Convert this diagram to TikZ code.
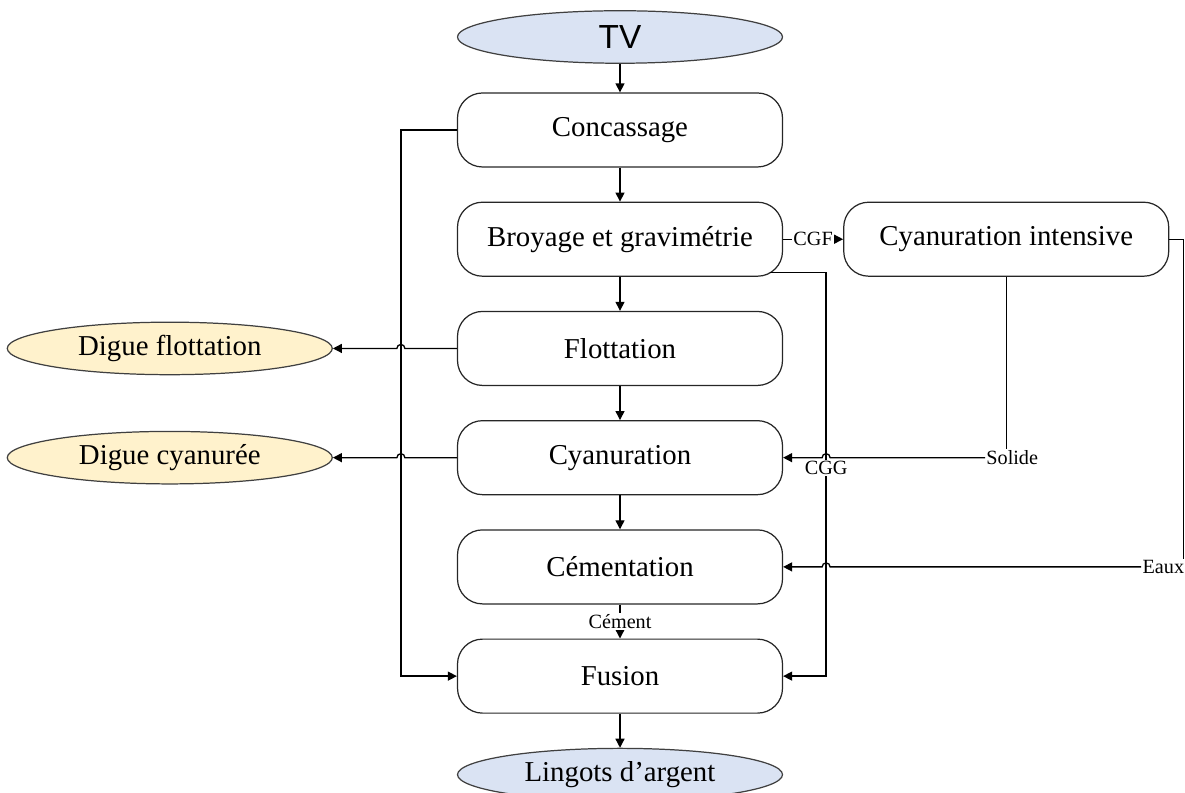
\documentclass[tikz,border=0pt]{standalone}
\usepackage{fontspec}
\setmainfont{Liberation Serif}
\newfontfamily\tvfont{Liberation Sans}
\usetikzlibrary{arrows.meta,positioning,calc,shapes.geometric}
\definecolor{blobblue}{HTML}{DAE3F3}
\definecolor{blobyellow}{HTML}{FFF2CC}
\tikzset{
  box/.style={draw=black!85, rounded corners=0.5cm, minimum width=6.5cm, minimum height=1.48cm, line width=0.7pt, font=\fontsize{16.4}{19}\selectfont},
  blob/.style={ellipse, draw=black!75, fill=blobblue, minimum width=6.5cm, minimum height=1.05cm, inner sep=0pt, line width=0.7pt, font=\fontsize{16.4}{19}\selectfont},
  dig/.style={blob, fill=blobyellow},
  lbl/.style={font=\fontsize{11.5}{13}\selectfont, inner sep=0.6pt, fill=white},
  arrow/.style={-{Triangle[length=1.8mm,width=1.8mm]}, line width=0.75pt},
  wire/.style={line width=0.75pt},
}

\begin{document}
\begin{tikzpicture}[node distance=0.68cm]
      \useasboundingbox (0,0) rectangle (23.7,-15.86);
      \node[blob, font=\tvfont\fontsize{19}{22}\selectfont] (tv) at (12.4,-0.74) {TV};
      \node[box, below=0.57cm of tv] (conc) {Concassage};
      \node[box, below=of conc] (broy) {Broyage et gravimétrie};
      \node[box, below=of broy] (flot) {Flottation};
      \node[box, below=of flot] (cyan) {Cyanuration};
      \node[box, below=of cyan] (cem) {Cémentation};
      \node[box, below=of cem] (fus) {Fusion};
      \node[blob, below=of fus] (ling) {Lingots d’argent};
      \node[box, right=1.2cm of broy] (ci) {Cyanuration intensive};
      \node[dig, left=2.48cm of flot] (dflot) {Digue flottation};
      \node[dig, left=2.48cm of cyan] (dcyan) {Digue cyanurée};

      \coordinate (busL) at ($(conc.west)+(-1.12,0)$);
      \coordinate (busR) at ($(broy.east)+(0.86,0)$);
      \coordinate (farR) at ($(ci.east)+(0.28,0)$);
      \coordinate (cggA) at ($(broy.south east)+(-0.26,0.09)$);

      % main line
      \draw[arrow] (tv) -- (conc);
      \draw[arrow] (conc) -- (broy);
      \draw[arrow] (broy) -- (flot);
      \draw[arrow] (flot) -- (cyan);
      \draw[arrow] (cyan) -- (cem);
      \draw[arrow] (cem) -- node[lbl]{Cément} (fus);
      \draw[arrow] (fus) -- (ling);
      \draw[arrow] (broy) -- node[lbl]{CGF} (ci);

      % left side
      \draw[arrow] (conc.west) -- (busL) |- (fus.west);
      \draw[arrow] (flot.west) -- ($(flot.west -| busL)+(0.08,0)$) arc[start angle=0, end angle=180, radius=0.08] -- (dflot.east);
      \draw[arrow] (cyan.west) -- ($(cyan.west -| busL)+(0.08,0)$) arc[start angle=0, end angle=180, radius=0.08] -- (dcyan.east);

      % right side
      \draw[arrow] (cggA) -| (busR |- fus.east) -- (fus.east);
      \node[lbl] (cgg) at ($(busR |- cyan.east)+(0,-0.2)$) {CGG};
      \node[lbl] (sol) at ($(ci.south |- cyan.east)+(0.12,0)$) {Solide};
      \draw[wire] (ci.south) -- (ci.south |- sol.north);
      \draw[arrow] (sol.west) -- ($(busR |- cyan.east)+(0.08,0)$) arc[start angle=0, end angle=180, radius=0.08] -- (cyan.east);
      \node[lbl] (eaux) at ($(farR |- cem.east)+(-0.4,0)$) {Eaux};
      \draw[wire] (ci.east) -- (farR) -- (farR |- eaux.north);
      \draw[arrow] (eaux.west) -- ($(busR |- cem.east)+(0.08,0)$) arc[start angle=0, end angle=180, radius=0.08] -- (cem.east);
    \end{tikzpicture}
\end{document}
